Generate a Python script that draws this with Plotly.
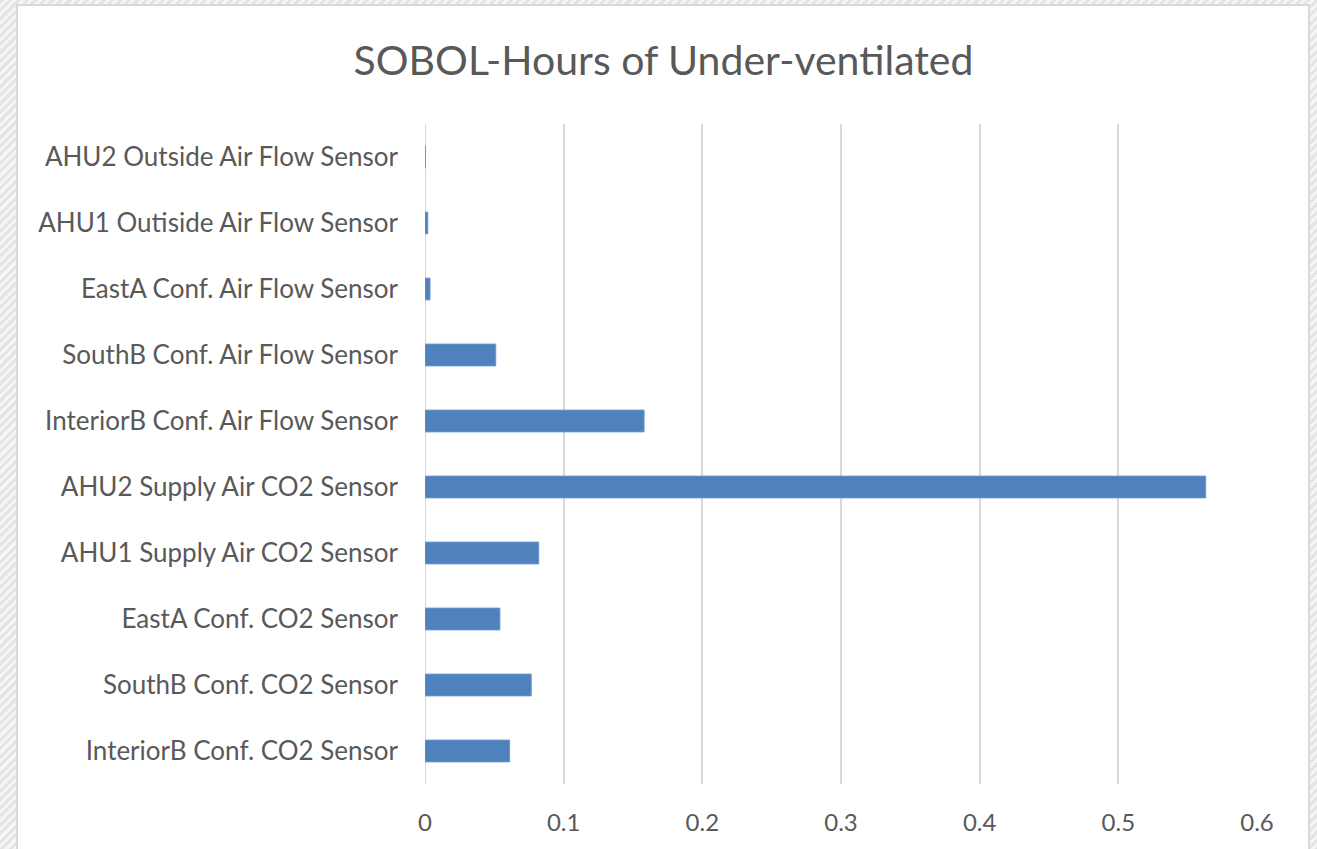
import plotly.graph_objects as go

categories = [
    "InteriorB Conf. CO2 Sensor",
    "SouthB Conf. CO2 Sensor",
    "EastA Conf. CO2 Sensor",
    "AHU1 Supply Air CO2 Sensor",
    "AHU2 Supply Air CO2 Sensor",
    "InteriorB Conf. Air Flow Sensor",
    "SouthB Conf. Air Flow Sensor",
    "EastA Conf. Air Flow Sensor",
    "AHU1 Outiside Air Flow Sensor",
    "AHU2 Outside Air Flow Sensor",
]
values = [0.061, 0.0766, 0.054, 0.082, 0.563, 0.158, 0.051, 0.0036, 0.002, 0.0003]
x_ticks = [0, 0.1, 0.2, 0.3, 0.4, 0.5, 0.6]
x_tick_labels = ["0", "0.1", "0.2", "0.3", "0.4", "0.5", "0.6"]
title_text = "SOBOL-Hours of Under-ventilated"

# body margin is removed by the post script, so figure pixels = screen pixels
W, H = 1317, 849
SL, SR, ST, SB = 425, 1257, 124, 784
L, T = SL, ST
R = W - SR
B = H - SB
pw, ph = SR - SL, SB - ST

def px_x(p):
    return (p - SL) / pw

def px_y(p):
    return (SB - p) / ph

fig = go.Figure()
fig.add_trace(go.Bar(
    x=values, y=categories, orientation="h",
    marker=dict(color="#4f81bd", line=dict(color="#6a96cc", width=1)),
    hoverinfo="x+y",
))

fig.add_shape(type="rect", xref="paper", yref="paper",
              x0=px_x(17), x1=px_x(1309), y0=px_y(900), y1=px_y(5),
              fillcolor="white", line=dict(color="#d9d9d9", width=2),
              layer="below")

fig.update_layout(
    width=W, height=H,
    margin=dict(l=L, r=R, t=T, b=B),
    paper_bgcolor="rgba(0,0,0,0)",
    plot_bgcolor="rgba(0,0,0,0)",
    bargap=0.67,
    showlegend=False,
    font=dict(family="Lato, sans-serif", color="#595959"),
    title=dict(text=title_text, x=663.5 / W, xanchor="center",
               y=1 - 61 / H, yanchor="middle", yref="container",
               font=dict(size=41, color="#595959", family="Lato, sans-serif")),
    xaxis=dict(range=[0, 0.6], tickvals=x_ticks, ticktext=x_tick_labels,
               showgrid=True, gridcolor="#d9d9d9", gridwidth=2,
               zeroline=False, showline=False,
               tickfont=dict(size=24, color="#595959"),
               ticklabelstandoff=22),
    yaxis=dict(categoryorder="array", categoryarray=categories,
               showgrid=False, zeroline=False, showline=False,
               tickfont=dict(size=26, color="#595959"),
               ticklabelstandoff=26),
)
fig.add_shape(type="line", xref="x", yref="paper", x0=0, x1=0, y0=0, y1=1,
              line=dict(color="#d9d9d9", width=2), layer="below")

fig.write_html(
    "out.html",
    config={"displayModeBar": False},
    post_script=(
        "document.body.style.margin='0';"
        "document.body.style.overflow='hidden';"
        "document.body.style.background="
        "'repeating-linear-gradient(135deg, #e4e4e4 0px, #e4e4e4 3px, #f5f5f5 3px, #f5f5f5 6px)';"
    ),
)
